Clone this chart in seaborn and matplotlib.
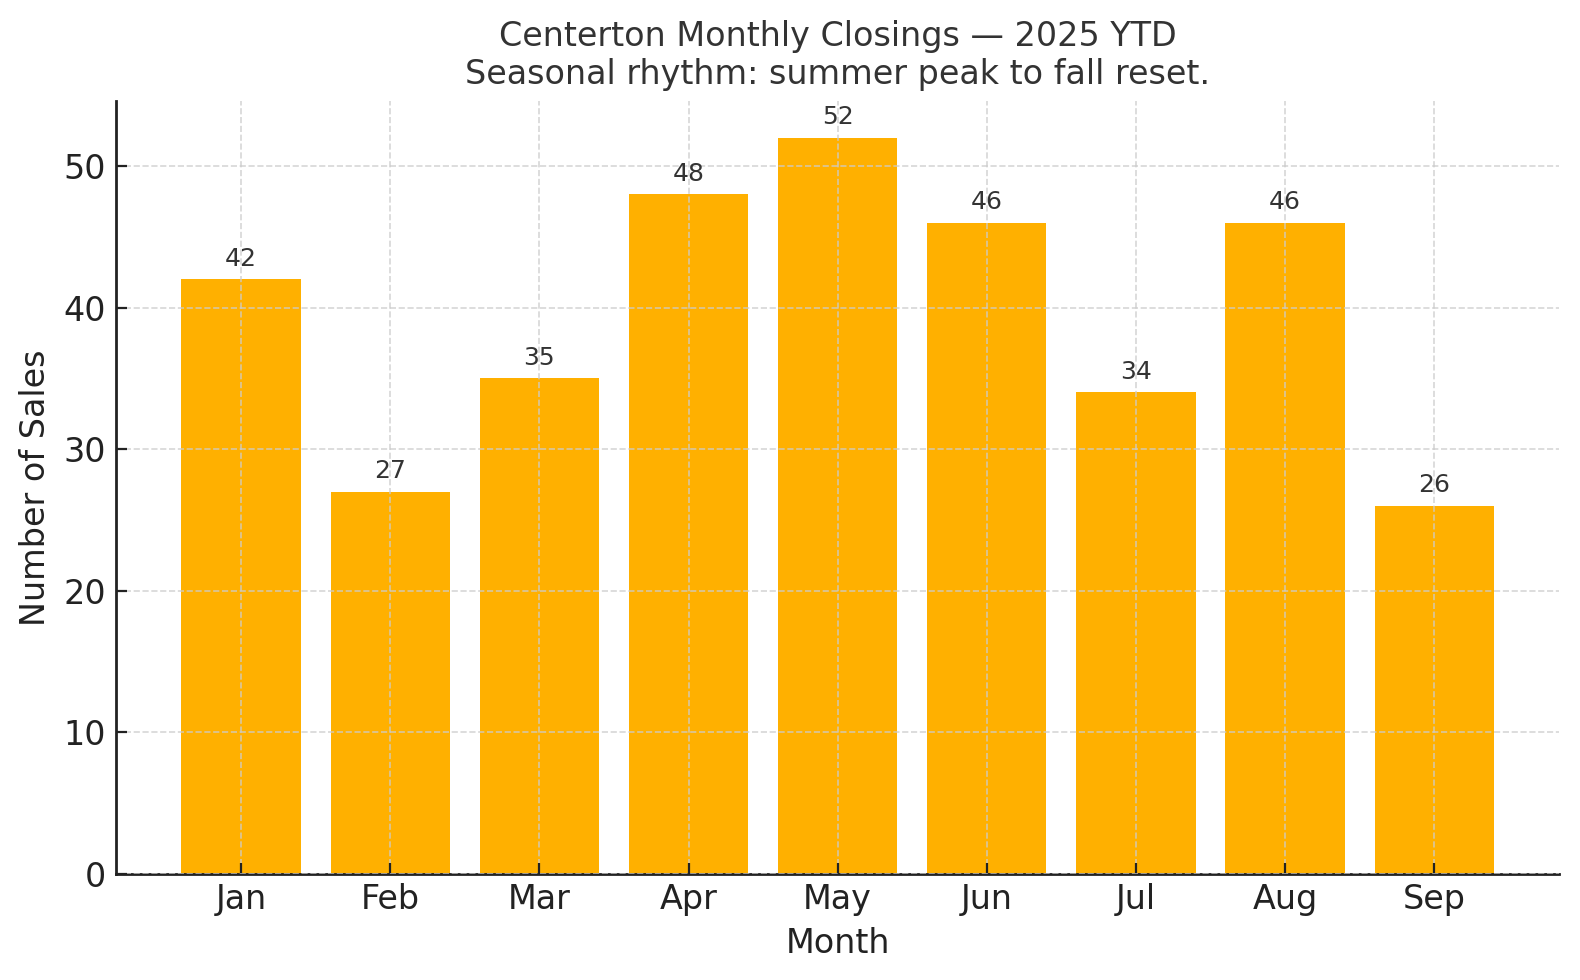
import seaborn as sns
import pandas as pd
import matplotlib
matplotlib.use("Agg")
import matplotlib.pyplot as plt

months = ["Jan", "Feb", "Mar", "Apr", "May", "Jun", "Jul", "Aug", "Sep"]
sales = [42, 27, 35, 48, 52, 46, 34, 46, 26]

sns.set_style("ticks")
plt.rcParams["font.family"] = ["DejaVu Sans"]
plt.rcParams["text.color"] = "#333333"
plt.rcParams["xtick.direction"] = "in"
plt.rcParams["ytick.direction"] = "in"

df = pd.DataFrame({"Month": months, "Sales": sales})

fig, ax = plt.subplots(figsize=(7.9, 4.9), dpi=200)
sns.barplot(data=df, x="Month", y="Sales", color="#FFB000", saturation=1,
            width=0.8, linewidth=0, ax=ax)
ax.set_xlim(-0.84, 8.84)
ax.set_ylim(0, 54.6)

ax.set_axisbelow(False)
ax.grid(True, linestyle="--", color="#cccccc", linewidth=0.6, alpha=0.8)

for c in ax.containers:
    ax.bar_label(c, fmt="%d", padding=3, fontsize=9, color="#333333")

ax.set_title("Centerton Monthly Closings — 2025 YTD\nSeasonal rhythm: summer peak to fall reset.",
             fontsize=12, color="#333333")
ax.set_xlabel("Month", fontsize=12, color="#222222")
ax.set_ylabel("Number of Sales", fontsize=12, color="#222222")
ax.tick_params(labelsize=12, colors="#222222", length=4)
sns.despine(ax=ax)
for s in ["left", "bottom"]:
    ax.spines[s].set_color("#222222")
    ax.spines[s].set_linewidth(1.0)

fig.subplots_adjust(left=0.0733, right=0.987, top=0.897, bottom=0.1086)
fig.savefig("out.png", dpi=200)
